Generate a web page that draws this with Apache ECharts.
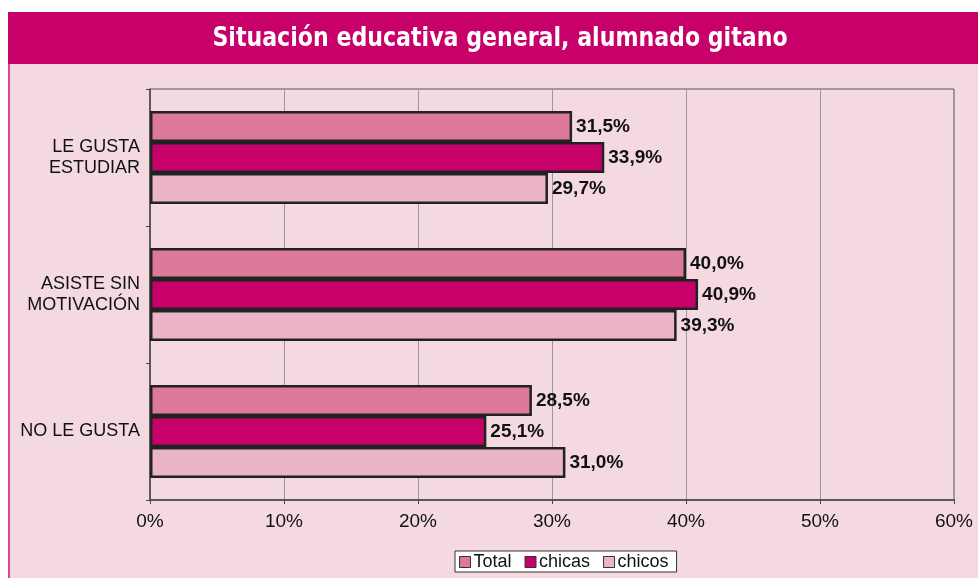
<!DOCTYPE html>
<html>
<head>
<meta charset="utf-8">
<script src="https://cdn.jsdelivr.net/npm/echarts@6/dist/echarts.min.js"></script>
<style>
  html, body { margin: 0; padding: 0; background: #fff; }
  #chart { width: 978px; height: 578px; }
</style>
</head>
<body>
<div id="chart"></div>
<script>
// datos
const categories = ['LE GUSTA\nESTUDIAR', 'ASISTE SIN\nMOTIVACIÓN', 'NO LE GUSTA']
const seriesNames = ['Total', 'chicas', 'chicos']
const total = [31.5, 40.0, 28.5]
const chicas = [33.9, 40.9, 25.1]
const chicos = [29.7, 39.3, 31.0]
const colors = ['#dc7898', '#c8006a', '#ecb4c8']

const chart = echarts.init(document.getElementById('chart'))

function makeSeries(name, data, color) {
  return {
    name: name,
    type: 'bar',
    data: data,
    barGap: '0%',
    barCategoryGap: '32%',
    itemStyle: {
      color: color,
      borderColor: '#222',
      borderWidth: 2.5
    },
    label: {
      show: true,
      position: 'right',
      distance: 4,
      color: '#111',
      fontFamily: 'Liberation Sans',
      fontWeight: 'bold',
      fontSize: 19,
      formatter: p => p.value.toFixed(1).replace('.', ',') + '%'
    }
  }
}

const option = {
  backgroundColor: '#fff',
  animation: false,
  graphic: [
    // panel rosa
    { type: 'rect', shape: { x: 8, y: 64, width: 980, height: 520 }, style: { fill: '#f5d9e0' }, z: -10 },
    { type: 'rect', shape: { x: 8, y: 64, width: 2, height: 520 }, style: { fill: '#e2449a' }, z: -9 },
    // banda del titulo
    { type: 'rect', shape: { x: 8, y: 12, width: 980, height: 52 }, style: { fill: '#c8006a' }, z: -9 },
    {
      type: 'group',
      x: 500,
      y: 39,
      scaleX: 0.91,
      children: [{
        type: 'text',
        style: {
          text: 'Situación educativa general, alumnado gitano',
          x: 0,
          y: 0,
          fill: '#fff',
          align: 'center',
          verticalAlign: 'middle',
          font: 'bold 27px "DejaVu Sans Condensed", "DejaVu Sans"'
        }
      }],
      z: 10
    }
  ],
  legend: {
    data: seriesNames,
    left: 455,
    top: 551,
    orient: 'horizontal',
    backgroundColor: '#fff',
    borderColor: '#333',
    borderWidth: 1,
    padding: [2, 8, 1, 4],
    itemWidth: 11,
    itemHeight: 11,
    itemGap: 13,
    icon: 'rect',
    itemStyle: { borderColor: '#333', borderWidth: 1 },
    textStyle: { fontFamily: 'Liberation Sans', fontSize: 18, color: '#111', padding: [0, 0, 0, -2] }
  },
  grid: {
    left: 150,
    right: 24,
    top: 89,
    bottom: 78,
    show: true,
    borderColor: '#555',
    borderWidth: 1,
    backgroundColor: 'transparent'
  },
  xAxis: {
    type: 'value',
    min: 0,
    max: 60,
    interval: 10,
    axisLine: { show: true, lineStyle: { color: '#444', width: 1.5 } },
    axisTick: { show: true, length: 4, lineStyle: { color: '#444' } },
    splitLine: { show: true, lineStyle: { color: '#999', width: 1 } },
    axisLabel: {
      formatter: '{value}%',
      fontFamily: 'Liberation Sans',
      fontSize: 19,
      color: '#111',
      margin: 12
    }
  },
  yAxis: {
    type: 'category',
    inverse: true,
    data: categories,
    axisLine: { show: true, lineStyle: { color: '#444', width: 1.5 } },
    axisTick: { show: true, length: 4, lineStyle: { color: '#444' } },
    axisLabel: {
      fontFamily: 'Liberation Sans',
      fontSize: 18,
      color: '#111',
      align: 'right',
      lineHeight: 21,
      margin: 10
    }
  },
  series: [
    makeSeries(seriesNames[0], total, colors[0]),
    makeSeries(seriesNames[1], chicas, colors[1]),
    makeSeries(seriesNames[2], chicos, colors[2])
  ]
}

chart.setOption(option)
</script>
</body>
</html>
